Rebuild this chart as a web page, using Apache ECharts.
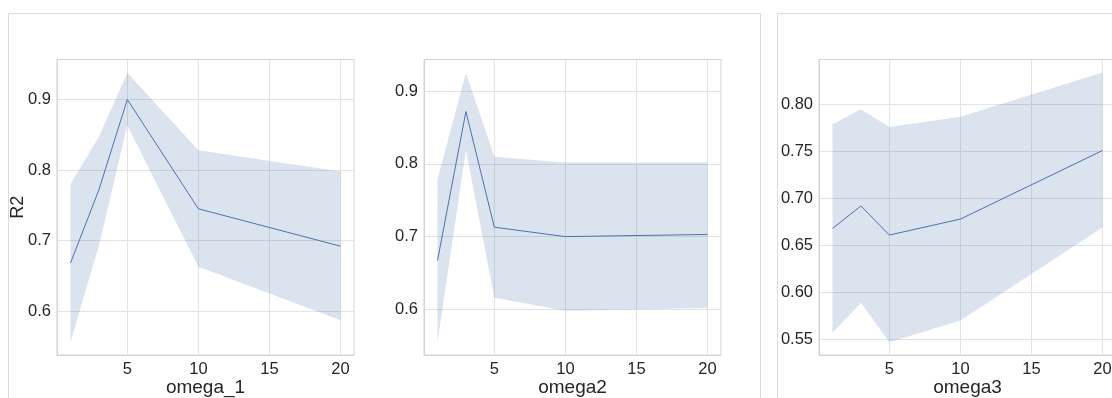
<!DOCTYPE html>
<html>
<head>
<meta charset="utf-8">
<script src="https://cdn.jsdelivr.net/npm/echarts@6/dist/echarts.min.js"></script>
<style>
html,body{margin:0;padding:0;background:#fff;overflow:hidden;}
#c{width:1112px;height:398px;}
</style>
</head>
<body>
<div id="c"></div>
<script>
// ---- data ----
const omegaX = [1, 3, 5, 10, 20];

const omega1Mean  = [0.668, 0.772, 0.900, 0.745, 0.692];
const omega1Upper = [0.780, 0.847, 0.938, 0.828, 0.798];
const omega1Lower = [0.556, 0.693, 0.863, 0.663, 0.587];

const omega2Mean  = [0.667, 0.872, 0.713, 0.700, 0.703];
const omega2Upper = [0.779, 0.925, 0.810, 0.802, 0.802];
const omega2Lower = [0.555, 0.819, 0.616, 0.598, 0.602];

const omega3Mean  = [0.668, 0.692, 0.661, 0.678, 0.751];
const omega3Upper = [0.779, 0.795, 0.776, 0.787, 0.834];
const omega3Lower = [0.557, 0.589, 0.547, 0.570, 0.669];

const xTicks = [5, 10, 15, 20];
const yTicks1 = [0.6, 0.7, 0.8, 0.9];
const yTicks2 = [0.6, 0.7, 0.8, 0.9];
const yTicks3 = [0.55, 0.60, 0.65, 0.70, 0.75, 0.80];

const xNames = ['omega_1', 'omega2', 'omega3'];
const yName = 'R2';

// ---- styling / layout ----
const LINE = '#4c72b0';
const FILL = 'rgba(76,114,176,0.2)';
const GRIDC = '#e3e3e3';
const FRAME = '#d4d4d4';
const TXT = '#262626';
const FONT = '"Liberation Sans", Arial, sans-serif';

const panels = [
  {mean: omega1Mean, up: omega1Upper, lo: omega1Lower, yt: yTicks1, ymin: 0.5377, ymax: 0.9567, dec: 1, left: 57, name: xNames[0], yname: yName},
  {mean: omega2Mean, up: omega2Upper, lo: omega2Lower, yt: yTicks2, ymin: 0.5372, ymax: 0.9436, dec: 1, left: 424, name: xNames[1], yname: ''},
  {mean: omega3Mean, up: omega3Upper, lo: omega3Lower, yt: yTicks3, ymin: 0.5333, ymax: 0.8479, dec: 2, left: 819, name: xNames[2], yname: ''}
];

const grids = [], xAxes = [], yAxes = [], series = [];
panels.forEach((p, i) => {
  grids.push({left: p.left, top: 59.5, width: 297, height: 295.5, show: true, borderColor: FRAME, borderWidth: 1,
    backgroundColor: 'transparent', containLabel: false, outerBoundsMode: 'none'});
  xAxes.push({
    type: 'value', gridIndex: i, min: 0.05, max: 20.95,
    name: p.name, nameLocation: 'middle', nameGap: 23, nameMoveOverlap: false,
    nameTextStyle: {color: TXT, fontSize: 19, fontFamily: FONT},
    axisLine: {show: true, lineStyle: {color: FRAME, width: 1}},
    axisTick: {show: false, customValues: xTicks},
    axisLabel: {customValues: xTicks, color: TXT, fontSize: 16.5, fontFamily: FONT, margin: 6},
    splitLine: {show: true, lineStyle: {color: GRIDC, width: 1}}
  });
  yAxes.push({
    type: 'value', gridIndex: i, min: p.ymin, max: p.ymax,
    name: p.yname, nameLocation: 'middle', nameGap: 30, nameMoveOverlap: false,
    nameTextStyle: {color: TXT, fontSize: 18, fontFamily: FONT},
    axisLine: {show: true, lineStyle: {color: FRAME, width: 1}},
    axisTick: {show: false, customValues: p.yt},
    axisLabel: {customValues: p.yt, color: TXT, fontSize: 16.5, fontFamily: FONT, margin: 6,
      formatter: v => Number(v).toFixed(p.dec)},
    splitLine: {show: true, lineStyle: {color: GRIDC, width: 1}}
  });
  const bandData = omegaX.map((x, k) => [x, p.lo[k], p.up[k]]);
  series.push({
    type: 'custom', xAxisIndex: i, yAxisIndex: i, silent: true, clip: true,
    data: bandData,
    encode: {x: 0, y: [1, 2]},
    renderItem: function (params, api) {
      if (params.dataIndex !== 0) return null;
      const pts = [];
      for (let k = 0; k < bandData.length; k++) pts.push(api.coord([bandData[k][0], bandData[k][2]]));
      for (let k = bandData.length - 1; k >= 0; k--) pts.push(api.coord([bandData[k][0], bandData[k][1]]));
      return {type: 'polygon', shape: {points: pts}, style: {fill: FILL}};
    },
    z: 2
  });
  series.push({
    type: 'line', xAxisIndex: i, yAxisIndex: i, silent: true,
    data: omegaX.map((x, k) => [x, p.mean[k]]),
    showSymbol: false, symbol: 'none',
    lineStyle: {color: LINE, width: 1},
    z: 3
  });
});

const chart = echarts.init(document.getElementById('c'), null, {renderer: 'canvas'});
chart.setOption({
  animation: false,
  backgroundColor: '#ffffff',
  grid: grids,
  xAxis: xAxes,
  yAxis: yAxes,
  series: series,
  graphic: [
    {type: 'rect', silent: true, z: -1, shape: {x: 8.5, y: 13.5, width: 752, height: 420}, style: {fill: 'none', stroke: '#dcdcdc', lineWidth: 1}},
    {type: 'rect', silent: true, z: -1, shape: {x: 777.5, y: 13.5, width: 400, height: 420}, style: {fill: 'none', stroke: '#dcdcdc', lineWidth: 1}}
  ]
});
</script>
</body>
</html>
